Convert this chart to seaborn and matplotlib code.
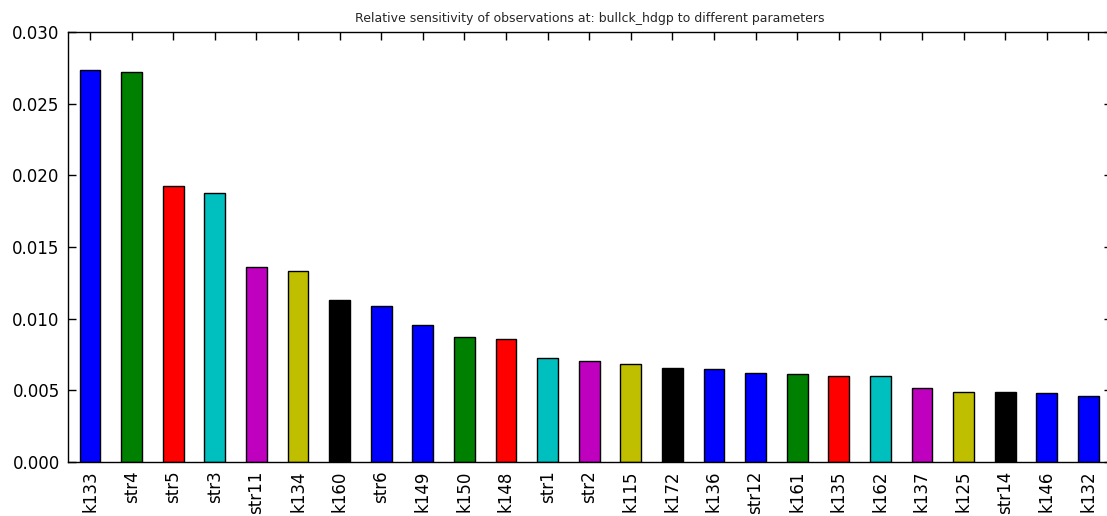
import matplotlib
matplotlib.use("Agg")
import matplotlib.pyplot as plt
import seaborn as sns
import pandas as pd

params = ["k133", "str4", "str5", "str3", "str11", "k134", "k160", "str6", "k149",
          "k150", "k148", "str1", "str2", "k115", "k172", "k136", "str12", "k161",
          "k135", "k162", "k137", "k125", "str14", "k146", "k132"]
sensitivity = [0.02735, 0.0272, 0.01925, 0.01877, 0.0136, 0.01333, 0.0113, 0.01088,
               0.00956, 0.00872, 0.00858, 0.00726, 0.00705, 0.00684, 0.00656, 0.00649,
               0.00621, 0.00614, 0.0060, 0.0060, 0.00516, 0.00488, 0.00488, 0.00481, 0.0046]
yticks = [0.000, 0.005, 0.010, 0.015, 0.020, 0.025, 0.030]
title = "Relative sensitivity of observations at: bullck_hdgp to different parameters"

# colour cycle as seen in the reference (b, g, r, c, m, y, k, b repeating)
base_colors = [(0, 0, 1), (0, 0.5, 0), (1, 0, 0), (0, 0.75, 0.75),
               (0.75, 0, 0.75), (0.75, 0.75, 0), (0, 0, 0), (0, 0, 1)]
palette = [base_colors[i % len(base_colors)] for i in range(len(params))]

df = pd.DataFrame({"param": params, "value": sensitivity})

sns.set_style("ticks")
plt.rcParams["font.family"] = ["DejaVu Sans"]

fig = plt.figure(figsize=(11.07, 5.16), dpi=100)
ax = fig.add_axes([68 / 1107, 1 - 462 / 516, (1112 - 68) / 1107, (462 - 32) / 516])

sns.barplot(data=df, x="param", y="value", hue="param", palette=palette,
            legend=False, width=0.5, edgecolor="black", linewidth=1.0,
            saturation=1, ax=ax)

ax.set_xlim(-0.53, len(params) - 0.43)
ax.set_ylim(0, 0.030)
ax.set_yticks(yticks)
ax.set_yticklabels([f"{t:.3f}" for t in yticks])
ax.set_xlabel("")
ax.set_ylabel("")
ax.set_title(title, fontsize=9, pad=7)

for s in ax.spines.values():
    s.set_visible(True)
    s.set_color("black")
    s.set_linewidth(1.0)

ax.tick_params(axis="both", direction="in", length=6, width=1, color="black",
               top=True, right=True, labelsize=12, labelcolor="black")
ax.tick_params(axis="x", rotation=90, pad=6)
ax.tick_params(axis="y", pad=6)

fig.savefig("out.png", dpi=100, facecolor="white")
